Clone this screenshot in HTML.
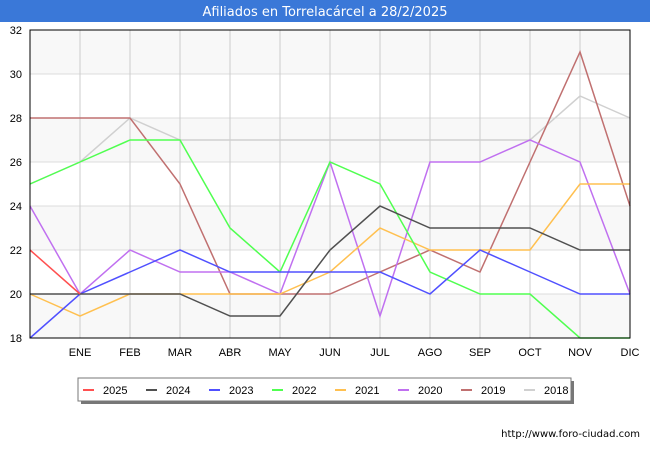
<!DOCTYPE html>
<html><head><meta charset="utf-8"><style>
body{margin:0;background:#fff;font-family:"Liberation Sans","DejaVu Sans",sans-serif}
</style></head><body>
<svg id="c" width="650" height="450" xmlns="http://www.w3.org/2000/svg">
<rect x="0" y="0" width="650" height="22" fill="#3a78d8"/>
<text x="325" y="16" text-anchor="middle" font-size="13" fill="#fff" font-family="DejaVu Sans, sans-serif">Afiliados en Torrelacárcel a 28/2/2025</text>
<g id="bands"></g><g id="grid"></g><g id="series"></g><g id="axes"></g>
<rect x="30" y="30" width="600" height="308" fill="none" stroke="#000" stroke-width="1"/>
<text x="640" y="437" text-anchor="end" font-size="10" fill="#000" font-family="DejaVu Sans, sans-serif">http://www.foro-ciudad.com</text>
<rect x="81" y="381" width="493" height="23" fill="#777"/>
<rect x="78" y="378" width="493" height="23" fill="#fff" stroke="#777"/>
<g id="legend"></g>
</svg>
<script>
const months=["","ENE","FEB","MAR","ABR","MAY","JUN","JUL","AGO","SEP","OCT","NOV","DIC"];
const yTicks=[18,20,22,24,26,28,30,32];
const years=["2025","2024","2023","2022","2021","2020","2019","2018"];
const colors=["#ff5050","#505050","#5050ff","#50ff50","#ffc050","#c070f0","#c07070","#d0d0d0"];
const s2025=[22,20];
const s2024=[20,20,20,20,19,19,22,24,23,23,23,22,22];
const s2023=[18,20,21,22,21,21,21,21,20,22,21,20,20];
const s2022=[25,26,27,27,23,21,26,25,21,20,20,18,18];
const s2021=[20,19,20,20,20,20,21,23,22,22,22,25,25];
const s2020=[24,20,22,21,21,20,26,19,26,26,27,26,20];
const s2019=[28,28,28,25,20,20,20,21,22,21,26,31,24];
const s2018=[25,26,28,27,27,27,27,27,27,27,27,29,28];
const seriesList=[s2025,s2024,s2023,s2022,s2021,s2020,s2019,s2018];
const NS="http://www.w3.org/2000/svg";
const X=i=>30+i*50, Y=v=>338-(v-18)*22;
function mk(t,a,p){const e=document.createElementNS(NS,t);for(const k in a)e.setAttribute(k,a[k]);p.appendChild(e);return e;}
const bands=document.getElementById('bands'),grid=document.getElementById('grid'),axes=document.getElementById('axes'),ser=document.getElementById('series'),leg=document.getElementById('legend');
for(let i=0;i<yTicks.length-1;i++){
 const r=mk('rect',{x:30,y:Y(yTicks[i+1]),width:600,height:Y(yTicks[i])-Y(yTicks[i+1]),fill:(i%2==0)?'#f8f8f8':'#ffffff'},bands);
 
 
}
yTicks.forEach(v=>{
 const l=mk('line',{x1:30,x2:630,y1:Y(v),y2:Y(v),stroke:'#ddd'},grid);
 
 
 const t=mk('text',{x:22,y:Y(v)+4,'text-anchor':'end','font-size':11,fill:'#000'},axes);
 
 
 t.textContent=v;
});
months.forEach((m,i)=>{
 if(i===0)return;
 const l=mk('line',{x1:X(i),x2:X(i),y1:30,y2:338,stroke:'#ccc'},grid);
 
 
 const t=mk('text',{x:X(i),y:356,'text-anchor':'middle','font-size':11,fill:'#000'},axes);
 
 
 t.textContent=m;
});
for(let k=seriesList.length-1;k>=0;k--){
 const d=seriesList[k];
 const p=mk('polyline',{points:d.map((v,i)=>X(i)+','+Y(v)).join(' '),fill:'none',stroke:colors[k],'stroke-width':1.5},ser);
 
 
}
years.forEach((y,k)=>{
 const x0=83+k*63;
 const l=mk('line',{x1:x0,x2:x0+11,y1:390,y2:390,stroke:colors[k],'stroke-width':2},leg);
 
 
 const t=mk('text',{x:x0+20,y:394,'font-size':11,fill:'#000'},leg);
 
 
 t.textContent=y;
});
</script>
</body></html>
